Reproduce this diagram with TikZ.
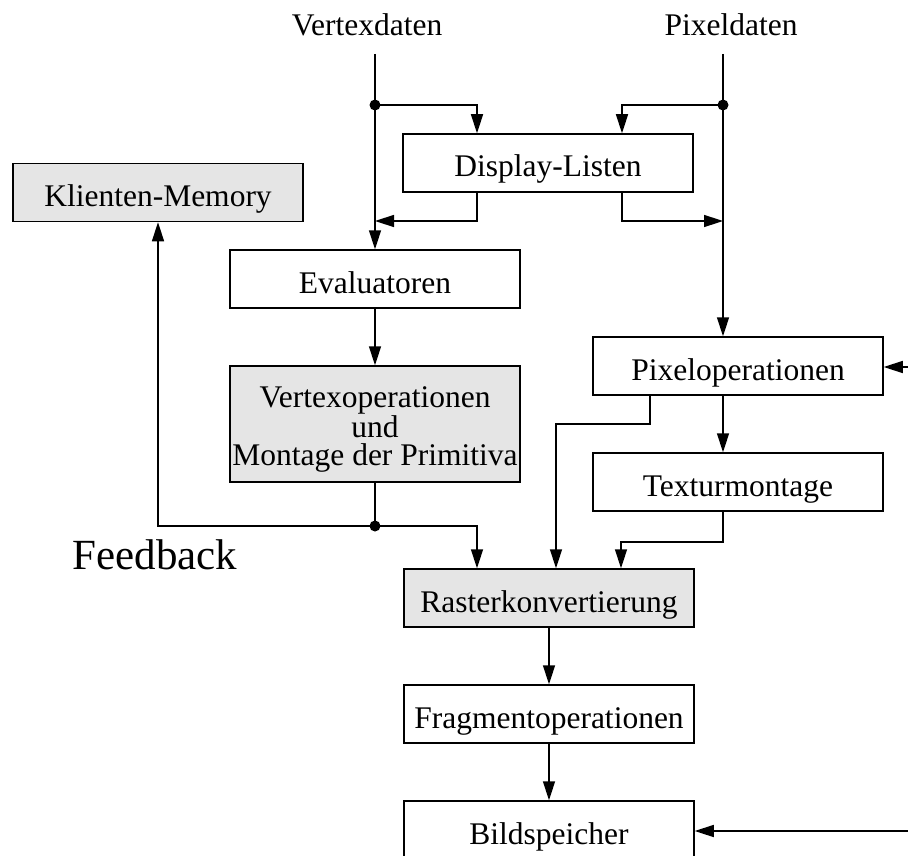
\documentclass[tikz,border=0pt]{standalone}
\usepackage{fontspec}
\setmainfont{Liberation Serif}
\usetikzlibrary{arrows.meta}
\definecolor{boxgray}{HTML}{E5E5E5}
\tikzset{
  box/.style={draw, line width=1.5pt, rectangle, inner sep=0pt, minimum width=290pt, minimum height=58pt,
    font=\fontsize{31.5}{28}\selectfont, text height=29pt, text depth=1pt},
  graybox/.style={box, fill=boxgray},
  conn/.style={line width=1.5pt},
  arr/.style={line width=1.5pt, -{Triangle[length=19pt,width=12pt]}},
  lbl/.style={font=\fontsize{31.5}{28}\selectfont, anchor=base},
}
\begin{document}
\begin{tikzpicture}[x=1pt,y=-1pt]
\useasboundingbox (0,0) rectangle (908,856);
\clip (0,0) rectangle (908,856);
% labels
\node[lbl] (vd) at (367,36) {Vertexdaten};
\node[lbl] (pd) at (731,36) {Pixeldaten};
\node[font=\fontsize{43}{43}\selectfont, anchor=base] (fb) at (155,569) {Feedback};
% boxes
\node[box] (dl) at (548,163) {Display-Listen};
\node[graybox] (km) at (158,192.5) {Klienten-Memory};
\node[box] (ev) at (375,279) {Evaluatoren};
\node[draw, line width=1.5pt, fill=boxgray, inner sep=0pt, minimum width=290pt, minimum height=116pt,
  align=center, font=\fontsize{31.5}{27.5}\selectfont, text height=84pt, text depth=2pt] (vop) at (375,424)
  {Vertexoperationen\\und\\Montage der Primitiva};
\node[box] (pix) at (738,366) {Pixeloperationen};
\node[box] (tex) at (738,482) {Texturmontage};
\node[graybox] (ras) at (549,598) {Rasterkonvertierung};
\node[box] (frag) at (549,714) {Fragmentoperationen};
\node[box] (bild) at (549,830) {Bildspeicher};
% coordinates
\coordinate (vtop) at (375,54);
\coordinate (ptop) at (723,54);
\coordinate (vdot) at (375,105);
\coordinate (pdot) at (723,105);
\coordinate (vmid) at (375,221);
\coordinate (pmid) at (723,221);
\coordinate (fdot) at (375,526);
\coordinate (pin) at (908,367);
\coordinate (bin) at (908,831);
% connectors
\draw[arr] (vtop) -- (ev.north);
\draw[arr] (ptop) -- (ptop |- pix.north);
\draw[arr] (vdot) -| ([xshift=-71pt]dl.north);
\draw[arr] (pdot) -| ([xshift=74pt]dl.north);
\draw[arr] ([xshift=-71pt]dl.south) |- (vmid);
\draw[arr] ([xshift=74pt]dl.south) |- (pmid);
\draw[arr] (ev) -- (vop);
\draw[conn] (vop) -- (fdot);
\draw[arr] (fdot) -| (km.south);
\draw[arr] (fdot) -| ([xshift=-72pt]ras.north);
\draw[arr] ([xshift=-88pt]pix.south) -- ++(0,28) -| ([xshift=7pt]ras.north);
\draw[arr] ([xshift=-15pt]pix.south) -- ([xshift=-15pt]tex.north);
\draw[arr] ([xshift=-15pt]tex.south) -- ++(0,30) -| ([xshift=72pt]ras.north);
\draw[arr] (ras) -- (frag);
\draw[arr] (frag) -- (bild);
\draw[arr] (pin) -- (pin -| pix.east);
\draw[arr] (bin) -- (bin -| bild.east);
% dots
\fill (vdot) circle (5.5pt);
\fill (pdot) circle (5.5pt);
\fill (fdot) circle (5.5pt);
\end{tikzpicture}
\end{document}
